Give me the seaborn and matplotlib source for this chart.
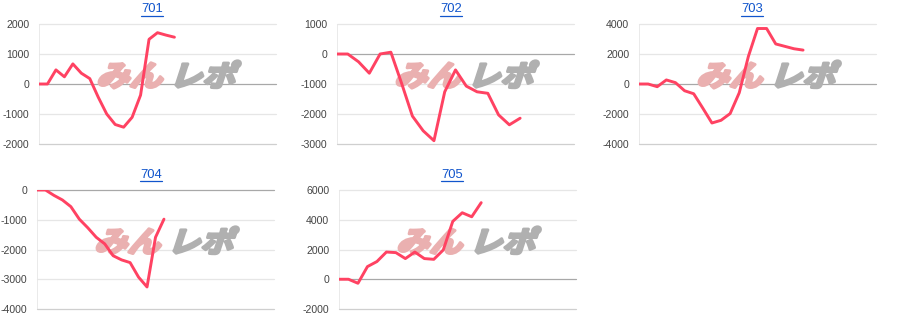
import numpy as np
import pandas as pd
import matplotlib
matplotlib.use("Agg")
import matplotlib.pyplot as plt
import seaborn as sns
from matplotlib.textpath import TextPath
from matplotlib.patches import PathPatch
from matplotlib.font_manager import FontProperties
from matplotlib.transforms import Affine2D, IdentityTransform
from matplotlib.lines import Line2D

# ---- data ----
titles = ["701", "702", "703", "704", "705"]
v701 = [0, 0, 470, 240, 670, 360, 180, -440, -1000, -1350, -1440, -1110, -370, 1490, 1710, 1630, 1560]
v702 = [0, 0, -260, -640, 0, 60, -980, -2070, -2560, -2890, -1260, -530, -1070, -1260, -1310, -2030, -2360, -2140]
v703 = [0, 0, -180, 270, 90, -450, -650, -1610, -2600, -2420, -1970, -580, 1840, 3700, 3700, 2670, 2510, 2350, 2260]
v704 = [0, 0, -180, -335, -560, -980, -1270, -1590, -1810, -2210, -2350, -2440, -2930, -3260, -1590, -980]
v705 = [0, 0, -270, 850, 1190, 1830, 1790, 1390, 1830, 1390, 1340, 1970, 3890, 4470, 4200, 5150]
series = [v701, v702, v703, v704, v705]
x_max = [28, 22, 26, 28, 25]
y_lims = [(-2000, 2000), (-3000, 1000), (-4000, 4000), (-4000, 0), (-2000, 6000)]
y_steps = [1000, 1000, 2000, 1000, 2000]

# ---- layout (pixels) ----
W, H = 900, 330
boxes = [(39, 24, 276, 144), (337, 24, 574, 144), (639, 24, 876, 144),
         (37, 190, 274, 309), (339, 190, 576, 309)]
title_pos = [(152, 9.5), (451, 9.5), (752, 9.5), (151, 175), (452, 175)]

sns.set_theme(style="white")
plt.rcParams['font.family'] = ['Liberation Sans', 'DejaVu Sans']

fig = plt.figure(figsize=(W / 100, H / 100), dpi=100)
line_color = "#ff4262"
jp = FontProperties(family='Noto Sans CJK JP', weight='bold')

for i, vals in enumerate(series):
    l, t, r, b = boxes[i]
    ax = fig.add_axes([l / W, (H - b) / H, (r - l) / W, (b - t) / H])
    df = pd.DataFrame({"x": np.arange(len(vals)), "y": vals})
    ax.set_xlim(0, x_max[i])
    lo, hi = y_lims[i]
    ax.set_ylim(lo, hi)
    ticks = np.arange(lo, hi + 1, y_steps[i])
    ax.set_yticks(ticks)
    ax.set_yticklabels([str(int(v)) for v in ticks], fontsize=7.6, color="#444444")
    ax.set_xticks([])
    ax.tick_params(axis='y', length=0, pad=7)
    for sp in ax.spines.values():
        sp.set_visible(False)
    for v in ticks:
        if v == 0:
            c = "#a8a8a8"
        elif v == lo:
            c = "#cfcfcf"
        else:
            c = "#e6e6e6"
        ax.axhline(v, color=c, lw=0.9, zorder=0.5, clip_on=False)
    ax.axvline(0, color="#e6e6e6", lw=1.2, zorder=0.4)

    # watermark
    base_x = l + 57
    base_y = H - (t + 62)
    for txt, col, dx in [("みん", "#eab0b0", 0), ("レポ", "#b0b0b0", 73)]:
        tp = TextPath((0, 0), txt, size=1, prop=jp)
        tr = Affine2D().scale(33, 29).skew_deg(18, 0).translate(base_x + dx, base_y)
        patch = PathPatch(tr.transform_path(tp), facecolor=col, edgecolor=col,
                          lw=2.2, joinstyle="round",
                          transform=IdentityTransform(), zorder=1, clip_on=False)
        ax.add_patch(patch)

    sns.lineplot(data=df, x="x", y="y", ax=ax, color=line_color, lw=2.1,
                 zorder=3, sort=False)
    ax.set_xlabel("")
    ax.set_ylabel("")

    # title with underline
    tx, ty = title_pos[i]
    fig.text(tx / W, (H - ty) / H, titles[i], ha="center", va="center",
             fontsize=9.4, color="#1155cc")
    fig.add_artist(Line2D([(tx - 11) / W, (tx + 11) / W],
                          [(H - ty - 6) / H, (H - ty - 6) / H],
                          color="#1155cc", lw=0.9))

fig.savefig("out.png", dpi=100)
